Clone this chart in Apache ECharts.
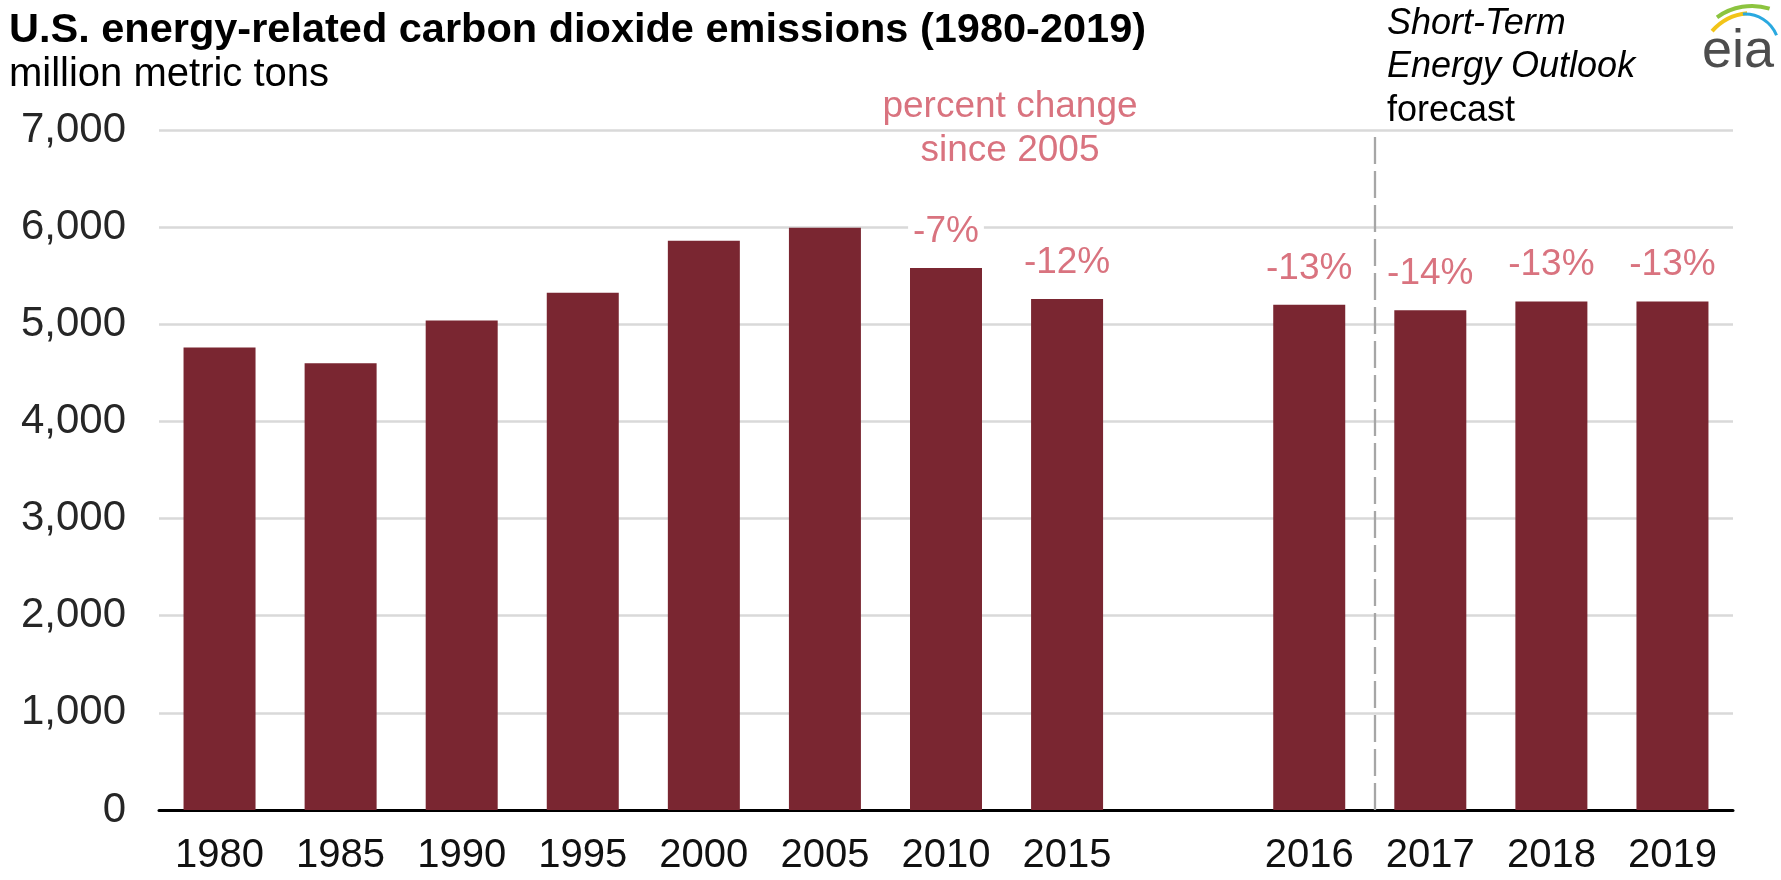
<!DOCTYPE html>
<html>
<head>
<meta charset="utf-8">
<title>U.S. energy-related carbon dioxide emissions (1980-2019)</title>
<script src="https://cdn.jsdelivr.net/npm/echarts@6/dist/echarts.min.js"></script>
<style>
  html, body { margin: 0; padding: 0; background: #fff; }
  #chart { width: 1781px; height: 880px; }
</style>
</head>
<body>
<div id="chart"></div>
<script>
// Years on the category axis; the blank slot separates history from forecast
const categories = ['1980', '1985', '1990', '1995', '2000', '2005', '2010', '2015', '', '2016', '2017', '2018', '2019'];
// Emissions, million metric tons
const emissions = [4760, 4600, 5040, 5325, 5860, 5995, 5580, 5260, null, 5200, 5145, 5235, 5235];
// Reference year for the percent-change labels, and first year that gets one
const baseYear = '2005';
const firstLabelledYear = 2010;
// Y axis range and step
const yMin = 0, yMax = 7000, yStep = 1000;
// Where the forecast period begins (in category slots, 0 = left edge)
const forecastStart = 10.04;

const FONT = "'Liberation Sans', Arial, sans-serif";
const baseValue = emissions[categories.indexOf(baseYear)];

const chart = echarts.init(document.getElementById('chart'), null, { renderer: 'canvas' });

const option = {
  backgroundColor: '#ffffff',
  animation: false,
  textStyle: { fontFamily: FONT },
  grid: { left: 159, right: 48, top: 130, bottom: 70, containLabel: false },
  xAxis: [
    {
      type: 'category',
      data: categories,
      axisLine: { show: true, lineStyle: { color: '#000', width: 3 } },
      axisTick: { show: false },
      axisLabel: { fontSize: 40, color: '#111', margin: 26, fontFamily: FONT, interval: 0 },
      splitLine: { show: false }
    },
    {
      type: 'value',
      min: 0,
      max: categories.length,
      show: false
    }
  ],
  yAxis: {
    type: 'value',
    min: yMin,
    max: yMax,
    interval: yStep,
    axisLine: { show: false },
    axisTick: { show: false },
    axisLabel: {
      fontSize: 42,
      color: '#262626',
      margin: 33,
      fontFamily: FONT,
      formatter: v => v.toLocaleString('en-US')
    },
    splitLine: { lineStyle: { color: '#d9d9d9', width: 2.5 } }
  },
  series: [
    {
      type: 'bar',
      data: emissions,
      barWidth: 72,
      itemStyle: { color: '#7a2631' },
      label: {
        show: true,
        position: 'top',
        distance: 18,
        fontSize: 37,
        fontFamily: FONT,
        color: '#d9737f',
        backgroundColor: '#ffffff',
        padding: [0, 5],
        formatter: p => {
          const year = parseInt(p.name, 10);
          if (!(year >= firstLabelledYear) || p.value == null) return '';
          const pct = Math.round((p.value / baseValue - 1) * 100);
          return (pct > 0 ? '+' : '') + pct + '%';
        }
      }
    },
    {
      // carries the dashed divider at the start of the forecast period
      type: 'line',
      xAxisIndex: 1,
      data: [],
      silent: true,
      markLine: {
        silent: true,
        symbol: 'none',
        label: { show: false },
        lineStyle: { type: [27, 7], color: '#a6a6a6', width: 2.3 },
        data: [{ xAxis: forecastStart }]
      }
    }
  ],
  graphic: [
    {
      type: 'text', x: 9, y: 31,
      style: { text: 'U.S. energy-related carbon dioxide emissions (1980-2019)', font: 'bold 41.5px ' + FONT, fill: '#000', align: 'left', verticalAlign: 'middle' }
    },
    {
      type: 'text', x: 9, y: 75,
      style: { text: 'million metric tons', font: '40px ' + FONT, fill: '#000', align: 'left', verticalAlign: 'middle' }
    },
    {
      type: 'text', x: 1387, y: 24,
      style: { text: 'Short-Term', font: 'italic 36px ' + FONT, fill: '#000', align: 'left', verticalAlign: 'middle' }
    },
    {
      type: 'text', x: 1387, y: 67,
      style: { text: 'Energy Outlook', font: 'italic 36px ' + FONT, fill: '#000', align: 'left', verticalAlign: 'middle' }
    },
    {
      type: 'text', x: 1387, y: 111,
      style: { text: 'forecast', font: '36px ' + FONT, fill: '#000', align: 'left', verticalAlign: 'middle' }
    },
    {
      type: 'text', x: 1010, y: 107,
      style: { text: 'percent change', font: '37px ' + FONT, fill: '#d9737f', align: 'center', verticalAlign: 'middle', backgroundColor: '#fff' }
    },
    {
      type: 'text', x: 1010, y: 151,
      style: { text: 'since 2005', font: '37px ' + FONT, fill: '#d9737f', align: 'center', verticalAlign: 'middle', backgroundColor: '#fff' }
    },
    // agency mark: coloured swoosh above the letters
    {
      type: 'arc',
      shape: { cx: 1752, cy: 66, r: 53, startAngle: 3.86, endAngle: 4.62, clockwise: true },
      style: { stroke: '#f2c418', lineWidth: 4, fill: null }
    },
    {
      type: 'arc',
      shape: { cx: 1752, cy: 66, r: 60, startAngle: 4.09, endAngle: 5.01, clockwise: true },
      style: { stroke: '#8cc43f', lineWidth: 4, fill: null }
    },
    {
      type: 'arc',
      shape: { cx: 1745, cy: 48, r: 34, startAngle: 4.65, endAngle: 5.9, clockwise: true },
      style: { stroke: '#2aa9e0', lineWidth: 3, fill: null }
    },
    {
      type: 'text', x: 1702, y: 52,
      style: { text: 'eia', font: '54px ' + FONT, fill: '#4d4d4d', align: 'left', verticalAlign: 'middle' }
    }
  ]
};

chart.setOption(option);
</script>
</body>
</html>
